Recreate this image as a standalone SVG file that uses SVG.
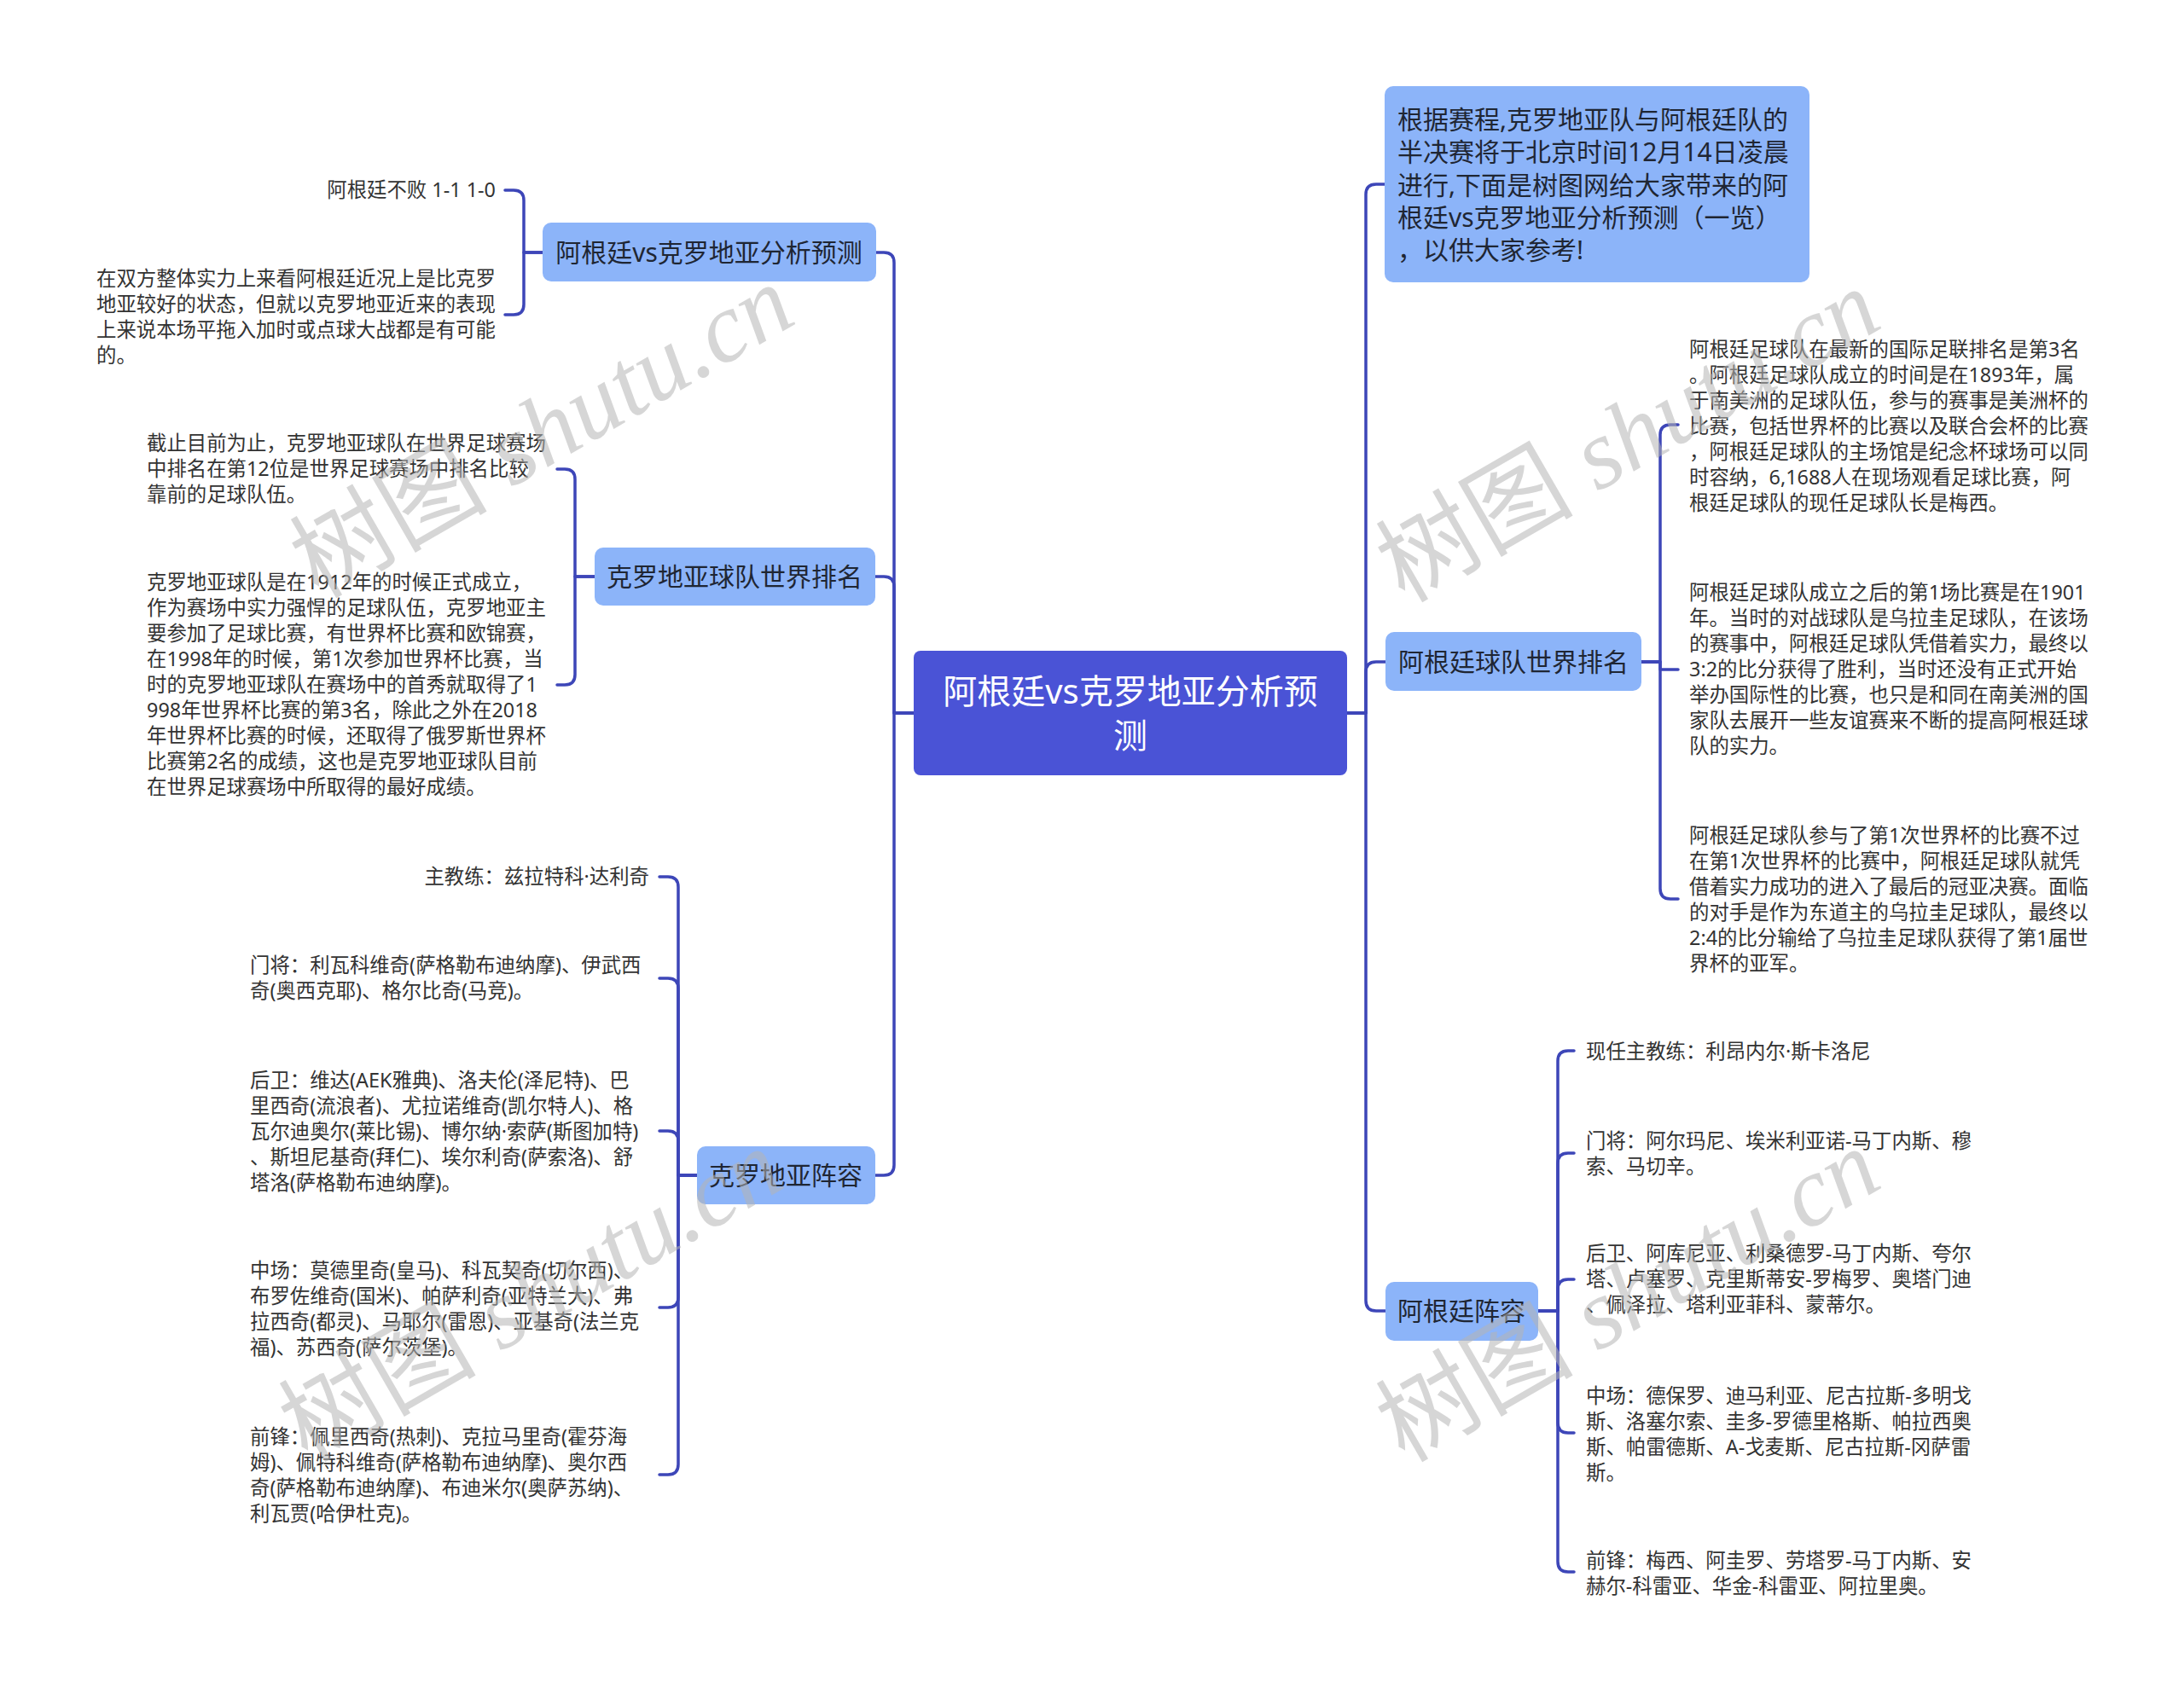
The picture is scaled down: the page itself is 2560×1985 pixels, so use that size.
<svg xmlns="http://www.w3.org/2000/svg" width="2560" height="1985" viewBox="0 0 2560 1985">
<style>
.bg{fill:#ffffff}
.conn path{fill:none;stroke:#3d46b8;stroke-width:3.5;stroke-linecap:round;stroke-linejoin:round}
.root rect{fill:#4a53d6}
.root text{fill:#ffffff;font-family:'Noto Sans','Noto Sans CJK SC',sans-serif;font-size:40px;text-anchor:middle}
.l1 rect{fill:#8cb4f9}
.l1 text{fill:#1f2633;font-family:'Noto Sans','Noto Sans CJK SC',sans-serif;font-size:30px}
.c{text-anchor:middle}
.leaf text{fill:#333333;font-family:'Noto Sans','Noto Sans CJK SC',sans-serif;font-size:23.4px}
.e{text-anchor:end}
.wm text{fill:#b4b4b4;fill-opacity:0.55;font-family:'Liberation Serif','Noto Sans CJK SC',serif;font-style:italic;font-size:116px;text-anchor:middle}
.wm tspan.cjk{font-family:'Noto Sans CJK SC',sans-serif;font-style:normal}
</style>
<rect class="bg" x="0" y="0" width="2560" height="1985"/>

<g class="conn" id="connectors">
<path d="M1071,836 H1048 V308 Q1048,296 1036,296 H1027"/>
<path d="M1071,836 H1048 V688 Q1048,676 1036,676 H1026"/>
<path d="M1071,836 H1048 V1366 Q1048,1378 1036,1378 H1026"/>
<path d="M636,296 H614 V235 Q614,223 602,223 H592"/>
<path d="M636,296 H614 V357 Q614,369 602,369 H592"/>
<path d="M697,676 H674 V562 Q674,550 662,550 H653"/>
<path d="M697,676 H674 V791 Q674,803 662,803 H653"/>
<path d="M817,1378 H795 V1040 Q795,1028 783,1028 H773"/>
<path d="M817,1378 H795 V1159 Q795,1147 783,1147 H773"/>
<path d="M817,1378 H795 V1338 Q795,1326 783,1326 H773"/>
<path d="M817,1378 H795 V1521 Q795,1533 783,1533 H773"/>
<path d="M817,1378 H795 V1717 Q795,1729 783,1729 H773"/>
<path d="M1579,836 H1601 V228 Q1601,216 1613,216 H1623"/>
<path d="M1579,836 H1601 V788 Q1601,776 1613,776 H1624"/>
<path d="M1579,836 H1601 V1525 Q1601,1537 1613,1537 H1624"/>
<path d="M1924,776 H1946 V510 Q1946,498 1958,498 H1967"/>
<path d="M1924,776 H1946 V785 H1967"/>
<path d="M1924,776 H1946 V1042 Q1946,1054 1958,1054 H1967"/>
<path d="M1803,1537 H1826 V1244 Q1826,1232 1838,1232 H1845"/>
<path d="M1803,1537 H1826 V1364 Q1826,1352 1838,1352 H1845"/>
<path d="M1803,1537 H1826 V1512 Q1826,1500 1838,1500 H1845"/>
<path d="M1803,1537 H1826 V1668 Q1826,1680 1838,1680 H1845"/>
<path d="M1803,1537 H1826 V1831 Q1826,1843 1838,1843 H1845"/>
</g>

<g id="root" class="root">
<rect x="1071" y="763" width="508" height="146" rx="8"/>
<text x="1325" y="825">阿根廷vs克罗地亚分析预</text>
<text x="1325" y="877">测</text>
</g>

<g id="L1" class="l1">
<rect x="636" y="261" width="391" height="69" rx="10"/>
<text class="c" x="831" y="307">阿根廷vs克罗地亚分析预测</text>
</g>
<g id="L1a" class="leaf">
<text class="e" x="581" y="231">阿根廷不败 1-1 1-0</text>
</g>
<g id="L1b" class="leaf">
<text x="113" y="335">在双方整体实力上来看阿根廷近况上是比克罗</text>
<text x="113" y="365">地亚较好的状态，但就以克罗地亚近来的表现</text>
<text x="113" y="395">上来说本场平拖入加时或点球大战都是有可能</text>
<text x="113" y="425">的。</text>
</g>

<g id="L2" class="l1">
<rect x="697" y="642" width="329" height="68" rx="10"/>
<text class="c" x="861" y="687">克罗地亚球队世界排名</text>
</g>
<g id="L2a" class="leaf">
<text x="172" y="528">截止目前为止，克罗地亚球队在世界足球赛场</text>
<text x="172" y="558">中排名在第12位是世界足球赛场中排名比较</text>
<text x="172" y="588">靠前的足球队伍。</text>
</g>
<g id="L2b" class="leaf">
<text x="172" y="691">克罗地亚球队是在1912年的时候正式成立，</text>
<text x="172" y="721">作为赛场中实力强悍的足球队伍，克罗地亚主</text>
<text x="172" y="751">要参加了足球比赛，有世界杯比赛和欧锦赛，</text>
<text x="172" y="781">在1998年的时候，第1次参加世界杯比赛，当</text>
<text x="172" y="811">时的克罗地亚球队在赛场中的首秀就取得了1</text>
<text x="172" y="841">998年世界杯比赛的第3名，除此之外在2018</text>
<text x="172" y="871">年世界杯比赛的时候，还取得了俄罗斯世界杯</text>
<text x="172" y="901">比赛第2名的成绩，这也是克罗地亚球队目前</text>
<text x="172" y="931">在世界足球赛场中所取得的最好成绩。</text>
</g>

<g id="L3" class="l1">
<rect x="817" y="1344" width="209" height="68" rx="10"/>
<text class="c" x="921" y="1389">克罗地亚阵容</text>
</g>
<g id="L3a" class="leaf">
<text class="e" x="761" y="1036">主教练：兹拉特科·达利奇</text>
</g>
<g id="L3b" class="leaf">
<text x="293" y="1140">门将：利瓦科维奇(萨格勒布迪纳摩)、伊武西</text>
<text x="293" y="1170">奇(奥西克耶)、格尔比奇(马竞)。</text>
</g>
<g id="L3c" class="leaf">
<text x="293" y="1275">后卫：维达(AEK雅典)、洛夫伦(泽尼特)、巴</text>
<text x="293" y="1305">里西奇(流浪者)、尤拉诺维奇(凯尔特人)、格</text>
<text x="293" y="1335">瓦尔迪奥尔(莱比锡)、博尔纳·索萨(斯图加特)</text>
<text x="293" y="1365">、斯坦尼基奇(拜仁)、埃尔利奇(萨索洛)、舒</text>
<text x="293" y="1395">塔洛(萨格勒布迪纳摩)。</text>
</g>
<g id="L3d" class="leaf">
<text x="293" y="1498">中场：莫德里奇(皇马)、科瓦契奇(切尔西)、</text>
<text x="293" y="1528">布罗佐维奇(国米)、帕萨利奇(亚特兰大)、弗</text>
<text x="293" y="1558">拉西奇(都灵)、马耶尔(雷恩)、亚基奇(法兰克</text>
<text x="293" y="1588">福)、苏西奇(萨尔茨堡)。</text>
</g>
<g id="L3e" class="leaf">
<text x="293" y="1693">前锋：佩里西奇(热刺)、克拉马里奇(霍芬海</text>
<text x="293" y="1723">姆)、佩特科维奇(萨格勒布迪纳摩)、奥尔西</text>
<text x="293" y="1753">奇(萨格勒布迪纳摩)、布迪米尔(奥萨苏纳)、</text>
<text x="293" y="1783">利瓦贾(哈伊杜克)。</text>
</g>

<g id="R1" class="l1">
<rect x="1623" y="101" width="498" height="230" rx="10"/>
<text x="1638" y="151">根据赛程,克罗地亚队与阿根廷队的</text>
<text x="1638" y="189">半决赛将于北京时间12月14日凌晨</text>
<text x="1638" y="228">进行,下面是树图网给大家带来的阿</text>
<text x="1638" y="266">根廷vs克罗地亚分析预测（一览）</text>
<text x="1638" y="304">，以供大家参考!</text>
</g>

<g id="R2" class="l1">
<rect x="1624" y="741" width="300" height="69" rx="10"/>
<text class="c" x="1774" y="787">阿根廷球队世界排名</text>
</g>
<g id="R2a" class="leaf">
<text x="1980" y="418">阿根廷足球队在最新的国际足联排名是第3名</text>
<text x="1980" y="448">。阿根廷足球队成立的时间是在1893年，属</text>
<text x="1980" y="478">于南美洲的足球队伍，参与的赛事是美洲杯的</text>
<text x="1980" y="508">比赛，包括世界杯的比赛以及联合会杯的比赛</text>
<text x="1980" y="538">，阿根廷足球队的主场馆是纪念杯球场可以同</text>
<text x="1980" y="568">时容纳，6,1688人在现场观看足球比赛，阿</text>
<text x="1980" y="598">根廷足球队的现任足球队长是梅西。</text>
</g>
<g id="R2b" class="leaf">
<text x="1980" y="703">阿根廷足球队成立之后的第1场比赛是在1901</text>
<text x="1980" y="733">年。当时的对战球队是乌拉圭足球队，在该场</text>
<text x="1980" y="763">的赛事中，阿根廷足球队凭借着实力，最终以</text>
<text x="1980" y="793">3:2的比分获得了胜利，当时还没有正式开始</text>
<text x="1980" y="823">举办国际性的比赛，也只是和同在南美洲的国</text>
<text x="1980" y="853">家队去展开一些友谊赛来不断的提高阿根廷球</text>
<text x="1980" y="883">队的实力。</text>
</g>
<g id="R2c" class="leaf">
<text x="1980" y="988">阿根廷足球队参与了第1次世界杯的比赛不过</text>
<text x="1980" y="1018">在第1次世界杯的比赛中，阿根廷足球队就凭</text>
<text x="1980" y="1048">借着实力成功的进入了最后的冠亚决赛。面临</text>
<text x="1980" y="1078">的对手是作为东道主的乌拉圭足球队，最终以</text>
<text x="1980" y="1108">2:4的比分输给了乌拉圭足球队获得了第1届世</text>
<text x="1980" y="1138">界杯的亚军。</text>
</g>

<g id="R3" class="l1">
<rect x="1624" y="1503" width="179" height="69" rx="10"/>
<text class="c" x="1713" y="1548">阿根廷阵容</text>
</g>
<g id="R3a" class="leaf">
<text x="1859" y="1241">现任主教练：利昂内尔·斯卡洛尼</text>
</g>
<g id="R3b" class="leaf">
<text x="1859" y="1346">门将：阿尔玛尼、埃米利亚诺-马丁内斯、穆</text>
<text x="1859" y="1376">索、马切辛。</text>
</g>
<g id="R3c" class="leaf">
<text x="1859" y="1478">后卫、阿库尼亚、利桑德罗-马丁内斯、夸尔</text>
<text x="1859" y="1508">塔、卢塞罗、克里斯蒂安-罗梅罗、奥塔门迪</text>
<text x="1859" y="1538">、佩泽拉、塔利亚菲科、蒙蒂尔。</text>
</g>
<g id="R3d" class="leaf">
<text x="1859" y="1645">中场：德保罗、迪马利亚、尼古拉斯-多明戈</text>
<text x="1859" y="1675">斯、洛塞尔索、圭多-罗德里格斯、帕拉西奥</text>
<text x="1859" y="1705">斯、帕雷德斯、A-戈麦斯、尼古拉斯-冈萨雷</text>
<text x="1859" y="1735">斯。</text>
</g>
<g id="R3e" class="leaf">
<text x="1859" y="1838">前锋：梅西、阿圭罗、劳塔罗-马丁内斯、安</text>
<text x="1859" y="1868">赫尔-科雷亚、华金-科雷亚、阿拉里奥。</text>
</g>

<g class="wm" id="watermarks">
<text transform="translate(655,540) rotate(-30)"><tspan class="cjk">树图</tspan> shutu.cn</text>
<text transform="translate(642,1553) rotate(-30)"><tspan class="cjk">树图</tspan> shutu.cn</text>
<text transform="translate(1928,545) rotate(-30)"><tspan class="cjk">树图</tspan> shutu.cn</text>
<text transform="translate(1928,1553) rotate(-30)"><tspan class="cjk">树图</tspan> shutu.cn</text>
</g>
</svg>
